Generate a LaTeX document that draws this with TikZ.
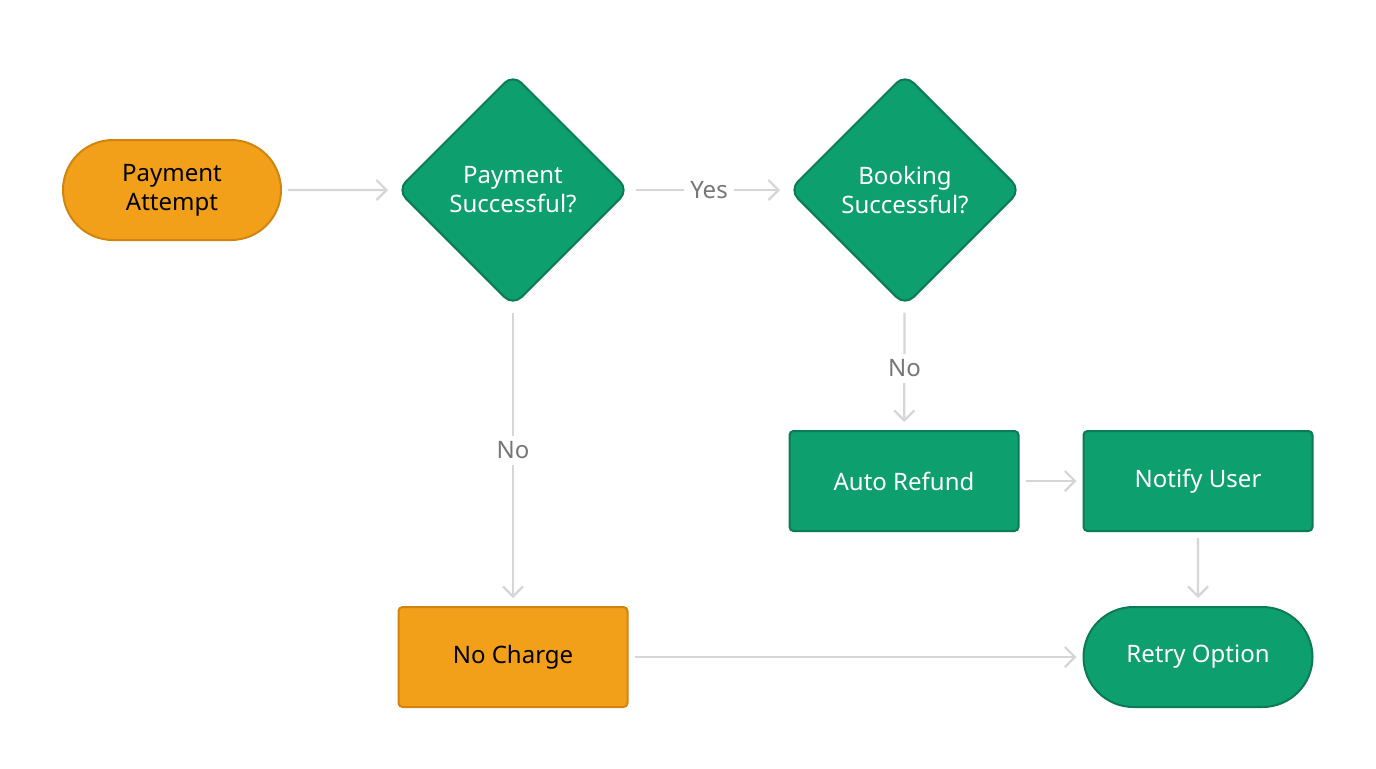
\documentclass[tikz,border=0pt]{standalone}
\usepackage{fontspec}
\setmainfont{Noto Sans}
\usetikzlibrary{shapes.geometric,arrows.meta}
\definecolor{gfill}{HTML}{0E9F6E}
\definecolor{gline}{HTML}{0B7A55}
\definecolor{ofill}{HTML}{F29F1A}
\definecolor{oline}{HTML}{D1850E}
\definecolor{conn}{HTML}{D6D6D6}
\definecolor{lbl}{HTML}{777777}
\begin{document}
\begin{tikzpicture}[x=0.5pt,y=-0.5pt,
  base/.style={draw,line width=1pt,align=center,font=\fontsize{12}{14.5}\selectfont,inner sep=0pt},
  green/.style={base,fill=gfill,draw=gline,text=white},
  orange/.style={base,fill=ofill,draw=oline,text=black},
  term/.style={rounded rectangle,minimum width=109pt,minimum height=50pt},
  box/.style={rectangle,rounded corners=2pt,minimum width=114.5pt,minimum height=50pt},
  dec/.style={green,diamond,aspect=1,minimum size=116pt,rounded corners=6pt},
  arr/.style={draw=conn,line width=1.1pt,-{Straight Barb[length=5pt,width=10pt]}},
  lab/.style={fill=white,text=lbl,font=\fontsize{12}{14}\selectfont,inner sep=3pt}]
\useasboundingbox[fill=white] (0,0) rectangle (1376,768);
\usetikzlibrary{shapes.misc}
\node[orange,term,rounded rectangle] (pa) at (172,190) {Payment\\Attempt};
\node[dec] (d1) at (513,190) {Payment\\Successful?};
\node[dec] (d2) at (905,190) {Booking\\Successful?};
\node[green,box] (ar) at (904,481) {Auto Refund};
\node[green,box] (nu) at (1198,481) {Notify User};
\node[orange,box] (nc) at (513,657) {No Charge};
\node[green,term,rounded rectangle,minimum width=114.5pt] (ro) at (1198,657) {Retry Option};
\draw[arr,shorten <=3pt,shorten >=4pt] (pa) -- (d1);
\draw[arr,shorten <=3pt,shorten >=4pt] (d1) -- node[lab]{Yes} (d2);
\draw[arr,shorten <=3pt,shorten >=4pt] (d2) -- node[lab]{No} (ar);
\draw[arr,shorten <=3pt,shorten >=4pt] (d1) -- node[lab,pos=0.48]{No} (nc);
\draw[arr,shorten <=3pt,shorten >=3pt] (ar) -- (nu);
\draw[arr,shorten <=3pt,shorten >=4pt] (nu) -- (ro);
\draw[arr,shorten <=3pt,shorten >=3pt] (nc) -- (ro);
\end{tikzpicture}
\end{document}
